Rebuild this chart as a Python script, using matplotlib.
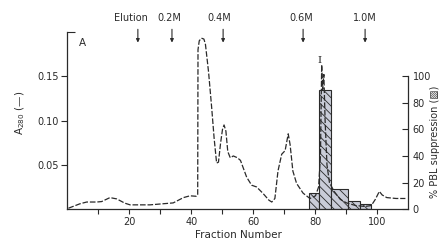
import matplotlib
matplotlib.use("Agg")
import matplotlib.pyplot as plt
import numpy as np
from matplotlib.ticker import FixedLocator

# A280 elution profile (dashed curve)
fraction = [0.3, 4.0, 6.2, 9.4, 11.0, 13.7, 15.9, 18.5, 20.2, 26.6, 34.1, 37.4,
            39.5, 41.5, 42.0, 42.1, 42.5, 43.2, 44.0, 44.5, 45.5, 46.5, 47.3,
            48.1, 48.7, 49.4, 50.0, 50.5, 51.1, 51.7, 52.5, 53.5, 54.8, 55.8,
            57.8, 59.4, 61.0, 63.0, 65.0, 65.9, 66.9, 67.9, 69.1, 70.2, 71.2,
            71.8, 72.7, 73.9, 76.0, 78.2, 80.0, 81.0, 81.6, 82.0, 82.3, 82.7,
            83.1, 83.7, 84.5, 86.0, 88.0, 90.0, 93.0, 96.0, 98.0, 99.3, 100.6,
            101.5, 103.0, 106.0, 109.0]
a280 = [0.001, 0.006, 0.008, 0.008, 0.0085, 0.013, 0.0115, 0.0067, 0.0048,
        0.0048, 0.007, 0.013, 0.015, 0.0145, 0.016, 0.180, 0.190, 0.193,
        0.192, 0.186, 0.155, 0.115, 0.080, 0.052, 0.053, 0.075, 0.090, 0.095,
        0.088, 0.065, 0.058, 0.060, 0.058, 0.055, 0.036, 0.027, 0.025, 0.018,
        0.010, 0.008, 0.012, 0.043, 0.062, 0.066, 0.085, 0.073, 0.043, 0.029,
        0.018, 0.012, 0.015, 0.025, 0.060, 0.163, 0.135, 0.152, 0.100, 0.050,
        0.030, 0.020, 0.011, 0.007, 0.004, 0.003, 0.004, 0.011, 0.020, 0.016,
        0.013, 0.012, 0.012]

# % PBL suppression histogram (pooled fractions)
bin_edges = [78.0, 81.0, 85.0, 90.5, 94.5, 98.0]
suppression = [12, 90, 15, 6, 4]

# salt step gradient markers
step_labels = ["Elution", "0.2M", "0.4M", "0.6M", "1.0M"]
step_label_x = [20.5, 32.7, 48.9, 75.5, 96.0]
step_arrow_x = [22.7, 33.7, 50.2, 76.0, 96.0]

xticks = [20, 40, 60, 80, 100]
xminor = [10, 30, 50, 70, 90]
yticks = [0.05, 0.10, 0.15]
yticklabels = ["0.05", "0.10", "0.15"]
rticks = [0, 20, 40, 60, 80, 100]

ink = "#2a2a2a"
plt.rcParams['font.family'] = ['DejaVu Sans']
plt.rcParams['font.size'] = 7
plt.rcParams['hatch.linewidth'] = 0.6

fig = plt.figure(figsize=(4.42, 2.44), dpi=100)
ax = fig.add_axes([0.1527, 0.143, 0.7715, 0.726])
ax2 = ax.twinx()

# histogram on the twin axis
ax2.bar(bin_edges[:-1], suppression, width=np.diff(bin_edges), align='edge',
        facecolor='#c9ccd8', edgecolor=ink, hatch='\\\\\\\\', linewidth=0.8)
ax2.set_ylim(0, 100 * 0.2 / 0.15)
ax2.set_yticks(rticks)
ax2.tick_params(axis='y', direction='in', length=4, width=0.8, colors=ink,
                labelsize=7, pad=3)
for s in ['top', 'left', 'bottom']:
    ax2.spines[s].set_visible(False)
ax2.spines['right'].set_bounds(0, 100)
ax2.spines['right'].set_linewidth(0.9)
ax2.spines['right'].set_color(ink)

# curve drawn above the bars
ax.set_zorder(ax2.get_zorder() + 1)
ax.patch.set_visible(False)
ax.plot(fraction, a280, color=ink, lw=0.9, dashes=(4.5, 1.5))

ax.set_xlim(0, 110)
ax.set_ylim(0, 0.2)
ax.set_xticks(xticks)
ax.xaxis.set_minor_locator(FixedLocator(xminor))
ax.set_yticks(yticks)
ax.set_yticklabels(yticklabels)
ax.yaxis.set_minor_locator(FixedLocator([0.2]))
ax.tick_params(axis='x', which='both', direction='out', length=3.5, width=0.8,
               colors=ink, labelsize=7, pad=2)
ax.tick_params(axis='y', which='major', direction='out', length=4, width=0.8,
               colors=ink, labelsize=7, pad=2)
ax.tick_params(axis='y', which='minor', direction='in', length=6, width=0.8,
               colors=ink)
for s in ['top', 'right']:
    ax.spines[s].set_visible(False)
for s in ['left', 'bottom']:
    ax.spines[s].set_linewidth(0.9)
    ax.spines[s].set_color(ink)

ax.set_xlabel("Fraction Number", color=ink, fontsize=7.5, labelpad=2)
ax.text(0.045, 0.94, "A", transform=ax.transAxes, color=ink, fontsize=7.5,
        ha='center', va='center')

# step gradient labels and arrows
for lab, lx, axx in zip(step_labels, step_label_x, step_arrow_x):
    ax.text(lx, 0.216, lab, ha='center', va='center', color=ink,
            fontsize=7, clip_on=False)
    ax.annotate("", xy=(axx, 0.188), xytext=(axx, 0.203),
                arrowprops=dict(arrowstyle='-|>', color=ink, lw=0.8,
                                mutation_scale=5, shrinkA=0, shrinkB=0),
                annotation_clip=False)

ax.text(81.2, 0.168, "I", ha='center', va='center', color=ink, fontsize=7.5,
        family='DejaVu Serif')

fig.text(0.045, 0.537, "A$_{280}$ (—)", rotation=90, ha='center',
         va='center', color=ink, fontsize=7.5)
fig.text(0.984, 0.42, "% PBL suppression (▨)", rotation=90, ha='center',
         va='center', color=ink, fontsize=7)

fig.savefig("out.png", dpi=100)
